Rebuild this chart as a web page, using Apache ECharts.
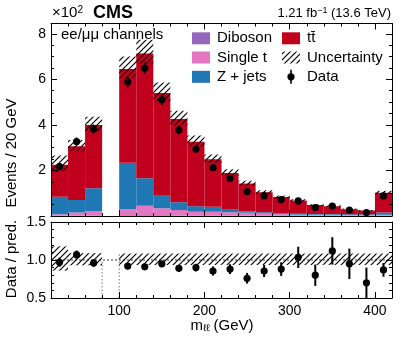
<!DOCTYPE html>
<html><head><meta charset="utf-8">
<script src="https://cdn.jsdelivr.net/npm/echarts@6/dist/echarts.min.js"></script>
<style>html,body{margin:0;padding:0;background:#fff}#c{width:407px;height:339px}</style>
</head><body><div id="c"></div>
<script>
// ---------- data (units of 10^2 events) ----------
const binLow   = [20,40,60,100,120,140,160,180,200,220,240,260,280,300,320,340,360,380,400];
const binWidth = 20;
const diboson  = [0.02,0.02,0.02,0.03,0.03,0.03,0.02,0.02,0.02,0.02,0.01,0.01,0.01,0.01,0.01,0.01,0.01,0.01,0.01];
const singleT  = [0.06,0.13,0.20,0.28,0.42,0.31,0.24,0.17,0.17,0.15,0.13,0.10,0.07,0.05,0.04,0.04,0.03,0.03,0.05];
const zjets    = [0.77,0.55,1.00,2.03,1.21,0.55,0.34,0.24,0.22,0.10,0.07,0.05,0.04,0.04,0.04,0.04,0.04,0.04,0.09];
const ttbar    = [1.40,2.36,2.78,4.11,5.47,4.51,3.66,2.83,2.08,1.62,1.22,0.88,0.71,0.58,0.39,0.34,0.22,0.16,0.87];
const dataVal  = [2.17,3.27,3.82,5.88,6.49,5.10,3.78,2.94,2.12,1.65,1.07,0.89,0.72,0.66,0.37,0.44,0.26,0.15,0.88];
const dataErr  = [0.15,0.18,0.20,0.24,0.25,0.23,0.19,0.17,0.15,0.13,0.10,0.09,0.085,0.08,0.06,0.066,0.05,0.04,0.09];
const uncUp    = [0.18,0.09,0.09,0.085,0.085,0.085,0.085,0.085,0.085,0.085,0.085,0.085,0.085,0.085,0.085,0.085,0.085,0.085,0.085];
const uncDown  = [0.14,0.07,0.07,0.065,0.065,0.065,0.065,0.065,0.065,0.065,0.065,0.065,0.065,0.065,0.065,0.065,0.065,0.065,0.065];
const ratioVal = [0.97,1.07,0.96,0.92,0.91,0.95,0.89,0.90,0.855,0.88,0.76,0.855,0.88,1.035,0.80,1.12,0.95,0.70,0.87];
const ratioErr = [0.06,0.055,0.05,0.04,0.035,0.04,0.045,0.05,0.06,0.065,0.07,0.08,0.09,0.14,0.14,0.18,0.20,0.20,0.09];
const gapEdges = [[80,1.0],[100,1.09]];
const xTicks   = [100,200,300,400];

const colors = {diboson:'#9467bd', singleT:'#e377c2', zjets:'#1f77b4', ttbar:'#c0001c'};
const font = '"Liberation Sans", Arial, Helvetica, sans-serif';

// hatch pattern
const hatch = (function(){
  const s = 6, c = document.createElement('canvas');
  c.width = s; c.height = s;
  const g = c.getContext('2d');
  g.strokeStyle = '#000'; g.lineWidth = 1.2;
  g.beginPath();
  g.moveTo(0, s); g.lineTo(s, 0);
  g.moveTo(-s/2, s/2); g.lineTo(s/2, -s/2);
  g.moveTo(s/2, s*1.5); g.lineTo(s*1.5, s/2);
  g.stroke();
  return c;
})();
const hatchFill = {image: hatch, repeat: 'repeat'};

// cumulative stacking
const layers = [['Diboson', diboson, colors.diboson], ['Single t', singleT, colors.singleT],
                ['Z + jets', zjets, colors.zjets], ['tt', ttbar, colors.ttbar]];
const cum = binLow.map(() => 0);
const total = binLow.map((b,i) => diboson[i]+singleT[i]+zjets[i]+ttbar[i]);

function rectSeries(name, data, style, xi, yi, z) {
  return {
    type:'custom', name, xAxisIndex:xi, yAxisIndex:yi, clip:true, z: z||2, silent:true,
    data, encode:{x:[0,1], y:[2,3]},
    renderItem: (params, api) => {
      const p0 = api.coord([api.value(0), api.value(2)]);
      const p1 = api.coord([api.value(1), api.value(3)]);
      return {type:'rect', shape:{x:p0[0], y:p1[1], width:p1[0]-p0[0], height:p0[1]-p1[1]}, style};
    }
  };
}
function pointSeries(name, data, xi, yi, lw) {
  return {
    type:'custom', name, xAxisIndex:xi, yAxisIndex:yi, clip:true, z:5, silent:true,
    data, encode:{x:0, y:1},
    renderItem: (params, api) => {
      const x = api.value(0), y = api.value(1), e = api.value(2);
      const c = api.coord([x,y]), lo = api.coord([x,y-e]), hi = api.coord([x,y+e]);
      return {type:'group', children:[
        {type:'line', shape:{x1:c[0], y1:lo[1], x2:c[0], y2:hi[1]}, style:{stroke:'#000', lineWidth:lw}},
        {type:'circle', shape:{cx:c[0], cy:c[1], r:3.6}, style:{fill:'#000'}}
      ]};
    }
  };
}

const series = [];
layers.forEach(([name, vals, col]) => {
  const d = binLow.map((b,i) => { const r = [b, b+binWidth, cum[i], cum[i]+vals[i]]; cum[i] += vals[i]; return r; });
  series.push(rectSeries(name, d, {fill: col}, 0, 0, 2));
});
series.push(rectSeries('Uncertainty', binLow.map((b,i)=>[b,b+binWidth,total[i]*(1-uncDown[i]),total[i]*(1+uncUp[i])]), {fill: hatchFill}, 0, 0, 3));
series.push(pointSeries('Data', binLow.map((b,i)=>[b+binWidth/2, dataVal[i], dataErr[i]]), 0, 0, 1.6));

// ratio panel
series.push(rectSeries('UncRatio', binLow.map((b,i)=>[b,b+binWidth,1-uncDown[i],1+uncUp[i]]), {fill: hatchFill}, 4, 2, 3));
series.push({type:'line', xAxisIndex:4, yAxisIndex:2, data:[[20,1],[420,1]], symbol:'none', silent:true, z:3,
  lineStyle:{color:'#000', width:0.8, type:[2,2]}});
series.push({type:'custom', xAxisIndex:4, yAxisIndex:2, silent:true, z:3, data: gapEdges, encode:{x:0,y:1},
  renderItem:(params, api) => {
    const a = api.coord([api.value(0), 0.5]), b = api.coord([api.value(0), api.value(1)]);
    return {type:'line', shape:{x1:a[0], y1:a[1], x2:b[0], y2:b[1]}, style:{stroke:'#555', lineWidth:0.8, lineDash:[1.5,2]}};
  }});
series.push(pointSeries('DataRatio', binLow.map((b,i)=>[b+binWidth/2, ratioVal[i], ratioErr[i]]), 4, 2, 2));

// axes
const xAxes = [];
[0,1].forEach(g => {
  ['bottom','top'].forEach(pos => {
    xAxes.push({gridIndex:g, type:'value', position:pos, min:20, max:420, interval:20, z:10,
      axisLine:{show:true, onZero:false, lineStyle:{color:'#000', width:1}},
      axisTick:{show:true, inside:true, length:3, lineStyle:{color:'#000', width:1}},
      axisLabel:{show:false}, splitLine:{show:false}});
    xAxes.push({gridIndex:g, type:'value', position:pos, min:20, max:420, z:10,
      axisLine:{show:false, onZero:false},
      axisTick:{show:true, inside:true, length:6, customValues:xTicks, lineStyle:{color:'#000', width:1}},
      axisLabel:{show: g===1 && pos==='bottom', customValues:xTicks, fontSize:14, color:'#000', fontFamily:font, margin:6},
      splitLine:{show:false}});
  });
});
function yAx(g, pos, min, max, interval, minorSplit, showLabel, fmt) {
  return {gridIndex:g, type:'value', position:pos, min, max, interval, z:10,
    axisLine:{show:true, onZero:false, lineStyle:{color:'#000', width:1}},
    axisTick:{show:true, inside:true, length:6, lineStyle:{color:'#000'}},
    minorTick:{show:true, splitNumber:minorSplit, length:3, lineStyle:{color:'#000'}},
    axisLabel:{show:showLabel, fontSize:14, color:'#000', fontFamily:font, margin:5, formatter:fmt},
    splitLine:{show:false}, minorSplitLine:{show:false}};
}
const yAxes = [
  yAx(0,'left',0,8.45,2,4,true, v => v===0 ? '' : String(v)),
  yAx(0,'right',0,8.45,2,4,false),
  yAx(1,'left',0.5,1.5,0.5,5,true, v => v.toFixed(1)),
  yAx(1,'right',0.5,1.5,0.5,5,false)
];

// legend + texts
const T = (x,y,text,opt) => Object.assign({type:'text', x, y, z:20, style:Object.assign({text, fill:'#000', font:'15px '+font, textVerticalAlign:'middle'}, opt||{})});
const box = (x,y,fill) => ({type:'rect', z:20, shape:{x, y:y-6, width:18, height:12}, style:{fill}});
const rowY = [38.3, 57.5, 76.8];
const graphic = [
  T(52, 13, '×10{s|2}', {rich:{s:{fontSize:10, verticalAlign:'top', fontFamily:font}}, font:'15px '+font}),
  T(93, 13, 'CMS', {font:'bold 18px '+font}),
  T(391, 13, '1.21 fb{s|−1} (13.6 TeV)', {textAlign:'right', font:'13px '+font, rich:{s:{fontSize:9, verticalAlign:'top', fontFamily:font}}}),
  T(61, 35, 'ee/μμ channels'),
  box(192, rowY[0], colors.diboson), T(217, rowY[0], 'Diboson'),
  box(192, rowY[1], colors.singleT), T(217, rowY[1], 'Single t'),
  box(192, rowY[2], colors.zjets),   T(217, rowY[2], 'Z + jets'),
  box(282, rowY[0], colors.ttbar),   T(307, rowY[0], 'tt\u0304'),
  {type:'rect', z:20, shape:{x:282, y:rowY[1]-6, width:18, height:12}, style:{fill:hatchFill}},
  T(307, rowY[1], 'Uncertainty'),
  {type:'line', z:20, shape:{x1:291, y1:rowY[2]-7, x2:291, y2:rowY[2]+7}, style:{stroke:'#000', lineWidth:1.6}},
  {type:'circle', z:20, shape:{cx:291, cy:rowY[2], r:3.6}, style:{fill:'#000'}},
  T(307, rowY[2], 'Data'),
  {type:'text', z:20, x:12, y:153, rotation:Math.PI/2, style:{text:'Events / 20 GeV', font:'15px '+font, fill:'#000', textAlign:'center', textVerticalAlign:'middle'}},
  {type:'text', z:20, x:12, y:259, rotation:Math.PI/2, style:{text:'Data / pred.', font:'15px '+font, fill:'#000', textAlign:'center', textVerticalAlign:'middle'}},
  {type:'text', z:20, x:222, y:326, style:{text:'m{s|ℓℓ} (GeV)', font:'15px '+font, fill:'#000', textAlign:'center', textVerticalAlign:'middle', rich:{s:{fontSize:10, verticalAlign:'bottom', fontFamily:font}}}}
];

const chart = echarts.init(document.getElementById('c'), null, {renderer:'canvas'});
chart.setOption({
  animation:false,
  backgroundColor:'#fff',
  grid:[{left:51, right:15, top:23.5, height:192.5}, {left:51, right:15, top:222, height:76}],
  xAxis:xAxes, yAxis:yAxes, series, graphic
});
</script></body></html>
